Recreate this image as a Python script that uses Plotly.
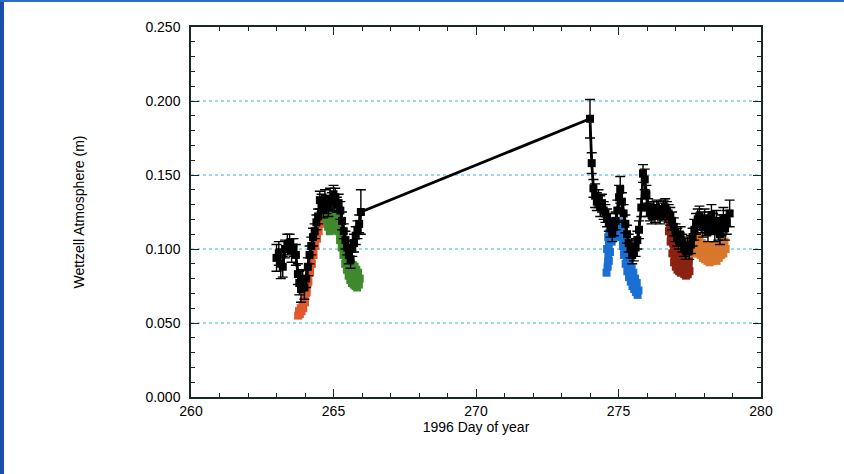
import plotly.graph_objects as go

# ---------------- data ----------------
# black series (with error bars)
blk_day = [263.00, 263.08, 263.15, 263.22, 263.30, 263.38, 263.46, 263.53, 263.60, 263.68,
           263.75, 263.80, 263.86, 263.92, 263.98, 264.04, 264.10, 264.16, 264.22, 264.28,
           264.34, 264.40, 264.46, 264.52, 264.58, 264.64, 264.70, 264.76, 264.82, 264.88,
           264.94, 265.00, 265.06, 265.12, 265.18, 265.24, 265.30, 265.36, 265.42, 265.48,
           265.54, 265.60, 265.66, 265.72, 265.78, 265.84, 265.90, 265.96,
           274.00,
           274.06, 274.12, 274.18, 274.24, 274.30, 274.36, 274.42, 274.48, 274.54, 274.60,
           274.66, 274.72, 274.78, 274.84, 274.90, 274.96, 275.02, 275.06, 275.12, 275.18,
           275.24, 275.30, 275.36, 275.42, 275.48, 275.54, 275.60, 275.66, 275.72, 275.80,
           275.86, 275.92, 275.98, 276.04, 276.10, 276.16, 276.22, 276.28, 276.34, 276.40,
           276.46, 276.52, 276.58, 276.64, 276.70, 276.76, 276.82, 276.88, 276.94, 277.00,
           277.06, 277.12, 277.18, 277.24, 277.30, 277.36, 277.42, 277.48, 277.54, 277.60,
           277.66, 277.72, 277.78, 277.84, 277.90, 277.96, 278.02, 278.08, 278.14, 278.20,
           278.26, 278.32, 278.38, 278.44, 278.50, 278.56, 278.62, 278.68, 278.74, 278.80,
           278.90]
blk_val = [0.094, 0.097, 0.090, 0.088, 0.100, 0.103, 0.104, 0.099, 0.101, 0.096,
           0.083, 0.077, 0.073, 0.079, 0.074, 0.080, 0.088, 0.096, 0.102, 0.108,
           0.112, 0.118, 0.122, 0.133, 0.131, 0.127, 0.133, 0.130, 0.128, 0.134,
           0.132, 0.137, 0.135, 0.130, 0.131, 0.126, 0.119, 0.112, 0.106, 0.101,
           0.096, 0.093, 0.100, 0.104, 0.109, 0.113, 0.117, 0.125,
           0.188,
           0.158, 0.141, 0.136, 0.132, 0.134, 0.129, 0.131, 0.126, 0.124, 0.121,
           0.118, 0.114, 0.111, 0.115, 0.119, 0.126, 0.135, 0.140, 0.132, 0.124,
           0.117, 0.110, 0.104, 0.100, 0.096, 0.098, 0.101, 0.106, 0.113, 0.128,
           0.151, 0.147, 0.137, 0.128, 0.125, 0.123, 0.126, 0.124, 0.127, 0.126,
           0.123, 0.125, 0.127, 0.128, 0.126, 0.124, 0.122, 0.119, 0.115, 0.111,
           0.108, 0.106, 0.109, 0.104, 0.101, 0.099, 0.102, 0.099, 0.103, 0.108,
           0.113, 0.117, 0.120, 0.122, 0.118, 0.115, 0.120, 0.116, 0.112, 0.118,
           0.123, 0.117, 0.112, 0.119, 0.113, 0.110, 0.116, 0.121, 0.114, 0.118,
           0.124]
blk_err = [0.009, 0.008, 0.010, 0.007, 0.006, 0.007, 0.006, 0.008, 0.006, 0.007,
           0.007, 0.008, 0.009, 0.007, 0.008, 0.006, 0.006, 0.006, 0.006, 0.006,
           0.005, 0.005, 0.005, 0.006, 0.006, 0.006, 0.007, 0.006, 0.006, 0.007,
           0.006, 0.006, 0.006, 0.005, 0.006, 0.006, 0.006, 0.005, 0.006, 0.005,
           0.006, 0.006, 0.005, 0.006, 0.006, 0.006, 0.006, 0.015,
           0.013,
           0.007, 0.006, 0.008, 0.006, 0.006, 0.007, 0.006, 0.006, 0.006, 0.006,
           0.006, 0.006, 0.006, 0.006, 0.006, 0.007, 0.008, 0.009, 0.006, 0.006,
           0.006, 0.006, 0.006, 0.006, 0.006, 0.006, 0.006, 0.006, 0.006, 0.006,
           0.006, 0.007, 0.006, 0.006, 0.006, 0.006, 0.006, 0.006, 0.006, 0.006,
           0.006, 0.006, 0.006, 0.006, 0.006, 0.006, 0.006, 0.006, 0.006, 0.006,
           0.006, 0.006, 0.006, 0.006, 0.006, 0.006, 0.006, 0.006, 0.006, 0.006,
           0.007, 0.007, 0.007, 0.007, 0.007, 0.007, 0.007, 0.007, 0.007, 0.007,
           0.007, 0.007, 0.007, 0.007, 0.007, 0.007, 0.007, 0.007, 0.008, 0.008,
           0.009]

# orange-red series
or_day = [263.76, 263.79, 263.82, 263.85, 263.88, 263.91, 263.94, 263.97, 264.00, 264.03,
          264.06, 264.09, 264.12, 264.15, 264.18, 264.21, 264.24, 264.27, 264.30, 264.33,
          264.36, 264.39, 264.42, 264.45, 264.48, 264.51, 264.54, 264.57, 264.60]
or_val = [0.055, 0.058, 0.056, 0.060, 0.058, 0.062, 0.060, 0.065, 0.064, 0.070,
          0.071, 0.077, 0.078, 0.084, 0.084, 0.090, 0.090, 0.096, 0.096, 0.102,
          0.102, 0.108, 0.107, 0.113, 0.112, 0.118, 0.117, 0.123, 0.121]

# green series
gr_day = [264.72, 264.75, 264.78, 264.81, 264.84, 264.87, 264.90, 264.93, 264.96, 264.99,
          265.02, 265.05, 265.08, 265.11, 265.14, 265.17, 265.20, 265.23, 265.26, 265.29,
          265.32, 265.35, 265.38, 265.41, 265.44, 265.47, 265.50, 265.53, 265.56, 265.59,
          265.62, 265.65, 265.68, 265.71, 265.74, 265.77, 265.80, 265.83, 265.86, 265.89,
          265.92]
gr_val = [0.127, 0.120, 0.124, 0.115, 0.119, 0.112, 0.117, 0.113, 0.120, 0.116,
          0.124, 0.119, 0.126, 0.120, 0.116, 0.112, 0.114, 0.106, 0.109, 0.101,
          0.104, 0.096, 0.099, 0.090, 0.095, 0.086, 0.093, 0.082, 0.091, 0.079,
          0.090, 0.077, 0.089, 0.076, 0.088, 0.075, 0.086, 0.074, 0.084, 0.076,
          0.080]

# blue series
bl_day = [274.58, 274.60, 274.62, 274.64, 274.66, 274.68, 274.70, 274.73, 274.76, 274.80,
          274.84, 274.88, 274.92, 274.96, 275.00, 275.04, 275.08, 275.12, 275.16, 275.19,
          275.22, 275.25, 275.28, 275.31, 275.34, 275.37, 275.40, 275.43, 275.46, 275.49,
          275.52, 275.55, 275.58, 275.61, 275.64, 275.67, 275.70]
bl_val = [0.084, 0.100, 0.088, 0.108, 0.092, 0.111, 0.098, 0.113, 0.105, 0.115,
          0.108, 0.116, 0.110, 0.114, 0.109, 0.118, 0.112, 0.108, 0.102, 0.096,
          0.100, 0.090, 0.096, 0.085, 0.093, 0.081, 0.090, 0.078, 0.087, 0.075,
          0.084, 0.073, 0.080, 0.071, 0.077, 0.069, 0.072]

# dark red series
dr_day = [276.74, 276.77, 276.80, 276.83, 276.86, 276.89, 276.92, 276.95, 276.98, 277.01,
          277.04, 277.07, 277.10, 277.13, 277.16, 277.19, 277.22, 277.25, 277.28, 277.31,
          277.34, 277.37, 277.40, 277.43, 277.46, 277.49, 277.52]
dr_val = [0.121, 0.112, 0.116, 0.105, 0.110, 0.097, 0.104, 0.091, 0.100, 0.088,
          0.097, 0.086, 0.095, 0.085, 0.094, 0.084, 0.096, 0.086, 0.093, 0.083,
          0.092, 0.082, 0.094, 0.083, 0.096, 0.085, 0.098]

# orange series
og_day = [277.52, 277.56, 277.60, 277.64, 277.68, 277.72, 277.76, 277.80, 277.84, 277.88,
          277.92, 277.96, 278.00, 278.04, 278.08, 278.12, 278.16, 278.20, 278.24, 278.28,
          278.32, 278.36, 278.40, 278.44, 278.48, 278.52, 278.56, 278.60, 278.64, 278.68,
          278.72, 278.76]
og_val = [0.104, 0.097, 0.108, 0.099, 0.110, 0.098, 0.106, 0.097, 0.108, 0.096,
          0.104, 0.094, 0.103, 0.093, 0.102, 0.092, 0.101, 0.091, 0.100, 0.092,
          0.102, 0.093, 0.100, 0.092, 0.099, 0.094, 0.103, 0.096, 0.104, 0.097,
          0.105, 0.100]

x_ticks = [260, 265, 270, 275, 280]
y_ticks = [0.0, 0.05, 0.10, 0.15, 0.20, 0.25]
grid_vals = [0.05, 0.10, 0.15, 0.20]

assert len(blk_day) == len(blk_val) == len(blk_err)

FONT = "Liberation Sans, Arial, Helvetica, sans-serif"

fig = go.Figure()

colored = [
    (or_day, or_val, "#e0582c"),
    (gr_day, gr_val, "#3e8a2c"),
    (bl_day, bl_val, "#1a6fd4"),
    (dr_day, dr_val, "#8c2212"),
    (og_day, og_val, "#d8782c"),
]
for d, v, c in colored:
    fig.add_trace(go.Scatter(
        x=d, y=v, mode="lines+markers",
        line=dict(color=c, width=6),
        marker=dict(symbol="square", size=8, color=c),
        showlegend=False, hoverinfo="x+y"))

fig.add_trace(go.Scatter(
    x=blk_day, y=blk_val, mode="lines+markers",
    line=dict(color="black", width=2.8),
    marker=dict(symbol="square", size=8, color="black"),
    error_y=dict(type="data", array=blk_err, visible=True,
                 color="black", thickness=1.4, width=5),
    showlegend=False))

axis_common = dict(
    showline=True, linecolor="#1b2626", linewidth=1.5, mirror="allticks",
    ticks="inside", tickcolor="#1b2626", tickwidth=1, ticklen=8,
    tickfont=dict(family=FONT, size=14, color="black"),
    zeroline=False, showgrid=False,
)

shapes = [
    dict(type="line", xref="x domain", yref="y", x0=0, x1=1, y0=g, y1=g,
         line=dict(color="#2cb4e6", width=1, dash="dot"), layer="below")
    for g in grid_vals
]
shapes += [
    dict(type="rect", xref="paper", yref="paper",
         x0=-191/570, x1=(4-191)/570, y0=(397-474)/370, y1=397/370,
         fillcolor="#1a4fa6", line=dict(width=0)),
    dict(type="rect", xref="paper", yref="paper",
         x0=-191/570, x1=(844-191)/570, y0=(397-2)/370, y1=397/370,
         fillcolor="#2f6cc8", line=dict(width=0)),
]

fig.update_layout(
    width=844, height=474,
    margin=dict(l=191, r=83, t=27, b=77),
    paper_bgcolor="white", plot_bgcolor="white",
    xaxis=dict(range=[260, 280], tickvals=x_ticks,
               minor=dict(dtick=1, ticks="inside", ticklen=4, tickcolor="#1b2626", showgrid=False),
               title=dict(text="1996 Day of year", font=dict(family=FONT, size=14, color="black"),
                          standoff=2),
               **axis_common),
    yaxis=dict(range=[0, 0.25], tickvals=y_ticks, tickformat=".3f",
               minor=dict(dtick=0.01, ticks="inside", ticklen=4, tickcolor="#1b2626", showgrid=False),
               title=dict(text="Wettzell Atmosphere (m)", font=dict(family=FONT, size=14, color="black"),
                          standoff=58),
               ticklabelstandoff=6,
               **axis_common),
    shapes=shapes,
)

fig.write_html("out.html", config={"displayModeBar": False},
               post_script="document.body.style.margin='0';document.body.style.overflow='hidden';")
